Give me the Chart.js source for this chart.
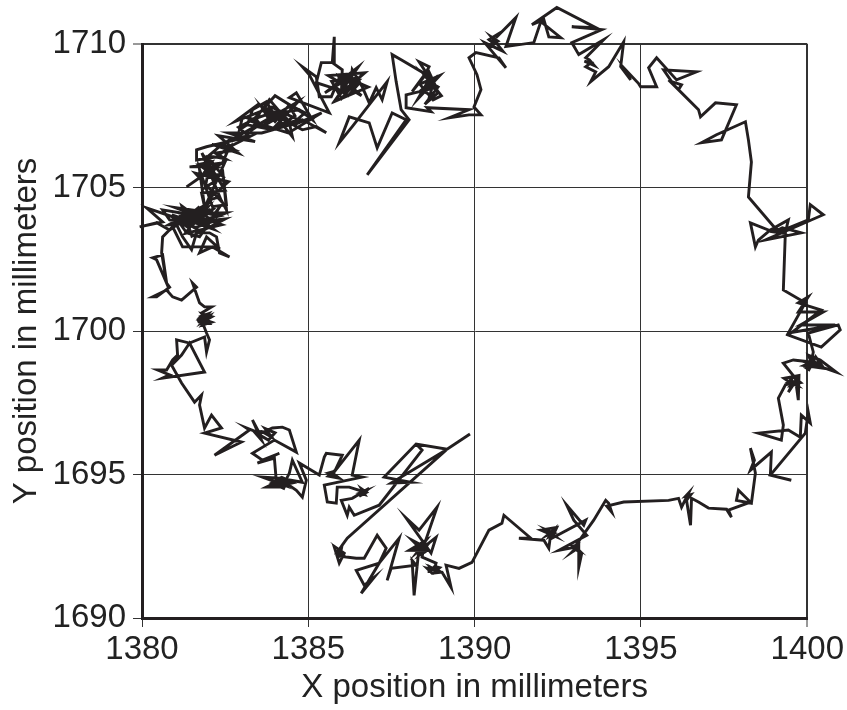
<!DOCTYPE html>
<html>
<head>
<meta charset="utf-8">
<script src="https://cdn.jsdelivr.net/npm/chart.js@4.4.1/dist/chart.umd.min.js"></script>
<style>
  html, body { margin: 0; padding: 0; background: #fff; }
  #wrap { width: 847px; height: 710px; position: relative; }
</style>
</head>
<body>
<div id="wrap"><canvas id="pathChart"></canvas></div>
<script>
// [x, y] in mm, in drawing order (bottom middle, then round the ring)
const legsMid = [[1389.86,1696.41],[1389.17,1695.88],[1388.24,1696.06],[1387.28,1694.91],[1388.09,1694.73],[1387.49,1694.70],[1389.14,1695.85],[1386.17,1692.78]];
const bottomLeft = [[1386.02,1692.54],[1385.87,1692.29],[1385.96,1692.12],[1385.81,1692.36],[1385.93,1691.91],[1386.08,1692.26],
  [1385.9,1692.4],[1386.05,1692.2],[1385.85,1692.25],[1386.0,1692.45],[1385.95,1692.15],
  [1386.44,1692.08],[1386.68,1692.08],[1387.07,1692.88],[1387.34,1692.43],[1387.13,1691.91],[1386.44,1691.66],[1386.68,1691.14],[1386.98,1691.42],[1386.59,1690.86],[1387.13,1691.91],[1387.73,1692.78],[1387.37,1691.31],[1387.49,1691.73],[1388.24,1691.84],[1388.12,1692.01],[1388.18,1690.79],[1388.33,1692.47],[1388.12,1692.71],
  [1388.3,1692.6],[1388.5,1692.3],[1388.35,1692.2],[1388.55,1692.5],[1388.25,1692.45],[1388.45,1692.65],[1388.6,1692.35],
  [1388.03,1692.36],[1388.54,1692.71],[1388.27,1692.29],[1388.84,1692.81],[1388.69,1692.26],[1387.94,1693.48],[1388.33,1693.06],[1388.87,1693.86],[1388.48,1692.54],[1388.42,1692.12],[1388.84,1691.91],[1388.78,1691.66],
  [1388.7,1691.75],[1388.9,1691.65],[1388.75,1691.55],[1388.95,1691.75],[1388.8,1691.8],[1388.65,1691.62],
  [1388.63,1691.80],[1388.96,1691.59],[1388.72,1691.56],[1388.57,1691.73],[1389.02,1691.59],[1389.29,1691.07],[1389.14,1691.84],[1389.53,1691.73],[1389.92,1691.94]];
const bottomRight = [[1390.43,1693.06],[1390.82,1693.30],[1390.88,1693.58],[1391.69,1692.78],[1391.33,1692.78],[1392.08,1692.71],[1392.23,1692.43],[1392.29,1692.95],
  [1392.2,1692.9],[1392.35,1693.05],[1392.25,1692.85],[1392.4,1692.95],
  [1392.17,1693.06],[1392.41,1692.85],[1391.99,1693.06],[1392.47,1693.16],[1392.32,1692.78],[1393.34,1693.41],[1393.28,1693.23],[1392.77,1693.93],[1392.98,1693.41],[1393.37,1692.88],[1392.53,1692.36],[1393.04,1692.47],
  [1393.1,1692.4],[1392.95,1692.5],[1393.1,1692.55],[1393.0,1692.35],
  [1392.92,1692.29],[1393.13,1692.54],[1393.13,1691.77],[1393.22,1692.26],[1392.98,1692.43],[1393.58,1693.41],[1393.94,1694.10],[1394.03,1694.00],[1394.12,1693.69],[1393.97,1693.90],[1394.48,1694.04],[1395.83,1694.10],[1396.13,1694.17],[1396.22,1693.86],[1396.43,1694.35],
  [1396.35,1694.25],[1396.5,1694.3],[1396.4,1694.15],
  [1396.37,1694.10],[1396.49,1693.23],[1396.52,1694.17],[1396.73,1694.04],[1397.03,1693.83],[1397.57,1693.79],[1397.72,1693.51],[1397.63,1693.76],[1398.29,1694.04],[1397.93,1694.45],[1397.87,1694.10],[1398.32,1694.00],[1398.44,1695.05],[1398.29,1695.92],[1398.41,1695.50],[1398.29,1695.15],[1398.92,1695.78],[1398.89,1694.98],[1399.52,1694.80],[1398.89,1694.98],[1399.94,1696.44],[1400.03,1697.17],[1400.09,1696.79],[1399.82,1697.07],[1399.79,1696.30],[1399.43,1696.55],[1398.53,1696.44],[1399.22,1696.20],[1399.28,1696.72],[1399.13,1697.66]];
const rightSide = [[1399.34,1698.12],[1399.58,1698.19],[1399.43,1697.87],[1399.67,1698.29],[1399.49,1698.08],
  [1399.5,1698.3],[1399.7,1698.1],[1399.4,1698.2],[1399.6,1698.4],[1399.8,1698.2],[1399.55,1698.15],[1399.3,1698.35],[1399.75,1698.45],
  [1399.73,1697.59],[1399.64,1698.36],[1399.28,1698.88],[1399.58,1698.99],[1400.12,1698.92],
  [1400.0,1698.9],[1400.3,1698.8],[1400.1,1699.0],[1400.4,1698.75],[1400.2,1698.95],[1399.9,1698.8],[1400.5,1698.7],[1400.25,1699.1],[1400.05,1698.65],
  [1399.97,1698.71],[1400.27,1698.81],[1400.87,1698.57],[1400.39,1698.99],[1400.03,1699.16],[1400.12,1698.92],[1400.18,1699.27],[1400.03,1699.93],[1400.93,1700.21],[1400.99,1700.04],[1400.42,1699.44],[1399.43,1699.86],[1400.42,1700.73],[1399.73,1700.98],[1400.03,1701.19],[1399.73,1700.66],[1400.48,1700.66],[1399.79,1700.21],[1400.84,1700.21],[1399.43,1699.93],[1399.94,1700.98],[1399.28,1701.43],[1399.34,1703.42],[1399.43,1703.87],[1398.89,1703.52],[1398.53,1703.17],[1398.44,1702.93],[1398.29,1703.77],[1398.89,1703.49],
  [1399.1,1703.55],[1399.3,1703.4],[1399.0,1703.45],[1399.25,1703.6],
  [1399.82,1703.42],[1398.74,1703.17],[1400.48,1704.05],[1400.09,1704.40],[1400.03,1703.87],[1399.13,1703.45],[1398.23,1704.67],[1398.32,1705.89],[1398.23,1706.66]];
const topRight = [[1398.14,1707.29],[1397.27,1706.84],[1396.82,1706.56],[1397.42,1706.66],[1397.87,1707.88],[1397.24,1707.95],[1396.79,1707.46],[1396.73,1707.71],[1395.83,1708.75],[1396.13,1708.41],[1396.22,1708.58],[1395.92,1708.69],[1395.68,1709.10],[1396.67,1709.03],[1396.07,1708.75],[1395.47,1709.52],[1395.23,1709.17],[1395.47,1708.51],[1394.99,1708.51],[1394.93,1708.62],[1394.48,1709.17],[1394.69,1708.75],[1394.39,1709.21],[1394.48,1710.08],[1394.03,1709.21],[1393.49,1708.69],[1393.64,1709.03],[1393.34,1709.21],
  [1393.5,1709.35],[1393.3,1709.4],[1393.6,1709.25],[1393.45,1709.45],
  [1393.34,1709.52],[1393.88,1710.15],[1393.13,1709.63],[1392.92,1710.05],[1393.82,1710.50],[1392.92,1710.60],[1393.64,1710.57],[1392.47,1711.27],[1391.72,1710.67],[1392.08,1710.85],[1392.23,1710.25],[1392.59,1710.22],[1391.99,1710.78],[1391.78,1710.05],[1390.94,1709.91],[1391.24,1710.92],[1390.64,1710.22],[1390.82,1710.43],[1390.43,1710.15],
  [1390.6,1710.0],[1390.4,1709.9],[1390.7,1710.1],[1390.5,1710.25],[1390.85,1709.75],[1390.3,1710.05],
  [1390.94,1709.17],[1390.73,1709.52],[1390.04,1709.70],[1389.83,1709.52],[1390.07,1708.93],[1390.19,1708.41],[1389.98,1707.81],[1390.19,1707.53],[1389.83,1707.53]];
const topLeft = [[1389.23,1707.43],[1389.83,1707.71],[1388.57,1707.78],[1388.69,1707.64],[1387.94,1707.78],[1387.94,1708.23],[1388.84,1708.48],[1388.33,1709.38],[1388.63,1709.21],[1388.48,1708.86],[1388.12,1708.34],
  [1388.6,1709.1],[1388.8,1708.6],[1388.5,1708.9],[1388.9,1708.3],[1388.6,1708.0],[1388.8,1708.8],[1388.4,1708.4],[1388.7,1708.2],[1388.5,1707.9],[1388.9,1708.5],[1388.6,1708.7],[1388.3,1708.1],
  [1388.95,1708.9],[1388.35,1708.6],[1388.75,1708.05],[1389.0,1708.2],[1388.45,1709.0],
  [1387.79,1709.45],[1387.52,1709.63],[1387.64,1708.69],[1387.79,1707.71],[1388.03,1707.36],[1386.77,1705.44],[1387.94,1707.36],[1387.52,1707.60],[1387.07,1706.38],[1386.83,1707.25],[1386.23,1707.46],[1385.93,1706.56],[1386.32,1707.12],[1387.37,1708.69],[1387.22,1708.06],[1387.04,1708.48],[1386.83,1707.95],[1386.62,1708.51],[1386.32,1709.10],
  [1386.3,1708.9],[1386.0,1708.6],[1386.4,1708.4],[1386.1,1708.9],[1385.8,1708.5],[1386.2,1708.2],[1386.5,1708.6],[1385.9,1708.9],[1386.1,1708.3],[1386.4,1708.8],[1385.7,1708.7],[1386.0,1708.1],[1386.3,1708.5],
  [1386.6,1708.2],[1385.6,1708.9],[1386.7,1709.0],[1385.9,1708.2],[1386.5,1709.2],[1385.5,1708.3],[1386.2,1708.8],[1386.8,1708.5],[1385.8,1708.0],[1386.35,1709.0],[1386.0,1708.45],
  [1386.02,1709.10],[1385.72,1709.35],[1385.78,1710.25],[1385.78,1709.35],[1385.39,1709.35],[1385.24,1708.65],[1385.63,1708.51],[1386.14,1708.30],[1386.53,1708.75],[1385.93,1708.82],[1385.69,1708.16],[1385.33,1708.16],[1385.24,1708.86],[1384.82,1709.21],[1385.03,1708.93],[1385.63,1707.60],[1384.43,1708.13],[1384.64,1708.30],[1385.12,1707.36],[1384.73,1707.71],[1384.13,1707.60],[1383.62,1707.71],[1383.83,1708.06],[1384.43,1707.25],[1384.52,1706.77],[1384.07,1707.43],[1383.62,1707.12],[1383.44,1707.36],[1383.02,1707.46],[1382.93,1707.01],[1383.17,1707.19],[1383.32,1707.71],[1383.74,1707.99],[1383.98,1707.53],[1384.82,1707.01],[1385.24,1707.12],[1385.54,1706.91],[1384.82,1707.36],[1384.34,1707.25],[1383.92,1707.01],[1383.44,1707.12],
  [1383.1,1707.2],[1383.5,1707.5],[1383.3,1707.0],[1383.8,1707.4],[1383.6,1707.8],[1384.0,1707.3],[1384.3,1707.7],[1384.1,1707.1],[1384.6,1707.5],[1384.4,1707.9],[1384.9,1707.6],[1384.5,1707.2],[1384.2,1707.6],[1383.7,1707.2],[1383.9,1707.6],[1383.4,1707.4],[1382.9,1707.1],[1383.2,1706.8],[1382.7,1706.7],[1382.4,1706.5],[1382.8,1706.3],[1382.2,1706.2],[1382.5,1706.0],[1382.0,1706.1],[1382.3,1706.4],
  [1384.7,1708.0],[1383.9,1707.0],[1385.1,1707.4],[1384.0,1708.2],[1383.3,1707.3],[1384.4,1706.9],[1385.4,1707.6],[1384.6,1707.2],[1383.5,1707.9],[1382.8,1707.3],[1383.9,1707.8],[1384.8,1707.3],[1383.6,1706.9],[1382.6,1706.9],[1383.4,1706.6],[1382.3,1706.8],[1382.9,1706.2],[1382.1,1706.5],
  [1382.63,1706.42],[1383.23,1706.77],[1381.94,1706.42],[1381.64,1706.31],[1381.64,1705.96],[1382.24,1706.07],[1382.63,1706.42],[1382.42,1705.86],[1381.43,1705.72],[1381.94,1705.72],[1382.27,1705.69],[1381.73,1705.34],[1381.34,1705.02],[1381.94,1705.51],[1382.42,1705.41],[1382.12,1705.86],
  [1381.9,1706.1],[1382.2,1705.7],[1381.8,1705.4],[1382.1,1705.9],[1381.7,1705.8],[1382.3,1705.3],[1381.9,1705.0],[1382.0,1705.6],
  [1382.5,1705.9],[1382.0,1704.6],[1382.6,1705.2],[1381.6,1705.5],[1382.4,1704.5],[1381.8,1706.2],[1382.5,1704.9],
  [1381.79,1704.81],[1381.88,1704.33],[1381.73,1705.62],[1382.12,1704.33],[1382.54,1704.40],[1382.42,1705.62],[1382.54,1704.22],[1382.33,1704.67],[1382.03,1704.57]];
const leftUpper = [[1381.64,1703.98],[1381.13,1704.12],[1380.62,1704.22],[1380.83,1703.87],[1381.43,1703.77],[1382.03,1704.22],[1382.24,1703.98],[1382.54,1704.12],
  [1381.5,1704.1],[1381.9,1703.7],[1381.3,1703.9],[1381.7,1704.3],[1382.1,1703.8],[1381.6,1703.6],[1381.2,1704.0],[1381.8,1704.0],[1382.2,1704.3],[1381.4,1703.6],[1381.0,1703.9],[1381.7,1703.9],[1381.9,1704.2],[1381.5,1703.8],[1382.3,1704.0],[1381.6,1704.2],
  [1381.0,1704.3],[1382.4,1703.7],[1381.3,1703.4],[1382.0,1704.45],[1380.8,1703.7],[1382.5,1703.9],[1381.5,1703.3],[1381.2,1704.35],[1382.15,1703.55],[1380.9,1704.05],[1381.8,1703.45],[1382.35,1704.35],
  [1381.94,1703.63],[1381.73,1703.28],[1381.34,1703.42],[1381.13,1703.77],[1380.83,1703.52],[1380.44,1703.77],[1379.93,1703.63],[1380.62,1703.80],[1380.14,1704.29],[1380.92,1703.98],[1381.22,1703.28],[1381.49,1702.83],[1381.64,1703.42],[1382.03,1703.42],[1382.24,1703.28],[1382.33,1702.72],[1382.63,1702.58],[1382.12,1702.93],[1381.73,1702.72],[1381.94,1703.28],[1382.27,1702.93],[1381.22,1702.93],[1380.92,1703.63],[1380.62,1703.28],[1380.59,1702.72],[1380.74,1701.67],[1380.44,1702.48],[1380.32,1702.55],[1380.62,1702.65],[1380.74,1701.67],[1380.83,1701.53],[1380.44,1701.19],[1380.32,1701.19],[1380.74,1701.43],[1380.92,1701.19],[1381.19,1701.08],[1381.64,1701.53],[1381.52,1701.67],[1381.73,1700.98],[1381.88,1700.84],[1382.09,1700.84],[1381.79,1700.63]];
const leftLower = [[1381.97,1700.45],[1381.67,1700.31],[1382.03,1700.52],[1381.82,1700.21],[1382.09,1700.31],[1381.73,1700.45],
  [1381.9,1700.6],[1381.7,1700.4],[1382.0,1700.3],[1381.8,1700.6],[1382.1,1700.5],[1381.8,1700.3],[1382.0,1700.6],[1381.75,1700.5],
  [1381.94,1699.93],[1382.03,1699.69],[1381.94,1699.27],[1381.88,1699.79],[1381.43,1699.58],[1381.04,1699.69],[1381.07,1699.16],[1380.92,1698.99],[1380.74,1698.64],[1380.47,1698.64],[1380.83,1698.47],[1380.62,1698.36],[1381.88,1698.57],[1381.43,1699.58],[1381.19,1699.16],[1380.89,1698.81],[1381.19,1698.19],[1381.58,1697.52],[1381.79,1697.77],[1381.73,1697.42],[1381.88,1696.62],[1382.09,1697.07],[1382.39,1696.62],[1381.88,1696.44],[1382.99,1696.13],[1382.18,1695.67],[1383.23,1696.55],[1383.14,1696.62],[1383.53,1696.44],[1383.32,1696.90],[1383.59,1696.20],[1383.38,1696.48],
  [1383.6,1696.5],[1383.9,1696.3],[1383.7,1696.6],[1384.0,1696.45],[1383.8,1696.2],[1383.5,1696.4],
  [1383.92,1696.62],[1384.22,1696.65],[1384.43,1696.55],[1384.64,1695.78],[1383.98,1696.20],[1383.32,1695.74],[1383.62,1695.50],[1384.13,1695.74],[1383.47,1695.40],[1383.98,1695.57]];
const lowerCluster = [[1384.04,1694.73],[1383.74,1694.56],[1384.22,1694.56],[1384.43,1695.05],[1384.52,1695.50],[1384.82,1694.73],[1384.13,1694.87],[1383.62,1694.91],[1384.28,1694.63],
  [1384.1,1694.8],[1384.3,1694.6],[1384.0,1694.6],[1384.4,1694.8],[1384.2,1694.9],[1383.9,1694.7],[1384.3,1694.5],[1384.1,1694.6],[1384.5,1694.7],[1384.2,1694.8],
  [1384.64,1694.45],[1384.82,1694.21],[1384.94,1694.80],[1384.73,1695.40]];
const lowerMiddle = [[1385.33,1694.98],[1385.48,1695.61],[1385.54,1695.74],[1386.02,1695.67],[1385.81,1695.15],[1385.60,1694.94],[1385.93,1694.87],[1385.69,1695.08],
  [1385.8,1694.95],[1385.6,1695.05],[1385.75,1695.1],[1385.65,1694.9],
  [1386.53,1696.20],[1386.32,1694.98],[1386.62,1694.91],[1385.48,1694.63],[1385.57,1694.04],[1385.84,1694.00],[1385.87,1694.56],[1386.23,1694.56],[1386.53,1694.45],[1386.62,1694.35],[1386.71,1694.42],
  [1386.55,1694.35],[1386.7,1694.3],[1386.6,1694.5],[1386.75,1694.38],
  [1386.53,1694.24],[1386.83,1694.52],[1386.32,1694.17],[1385.99,1694.10],[1386.17,1693.58],[1386.23,1693.86],[1386.38,1693.58],[1387.13,1693.93],[1388.42,1695.85],[1388.24,1696.06]];

const xTicks = [1380, 1385, 1390, 1395, 1400];
const yTicks = [1690, 1695, 1700, 1705, 1710];
const xTitle = "X position in millimeters";
const yTitle = "Y position in millimeters";

const track = [].concat(legsMid, bottomLeft, bottomRight, rightSide, topRight,
  topLeft, leftUpper, leftLower, lowerCluster, lowerMiddle)
  .map(([x, y]) => ({ x: x, y: y }));

const ink = "#231f20";
const textColor = "#222";
const textFont = { family: "'Liberation Sans', Arial, sans-serif", size: 33 };

const ctx = document.getElementById("pathChart").getContext("2d");
const chart = new Chart(ctx, {
  type: "scatter",
  data: {
    datasets: [
      {
        data: track,
        showLine: true,
        borderColor: ink,
        borderWidth: 2.9,
        borderJoinStyle: "miter",
        pointRadius: 0,
        pointHoverRadius: 0,
        tension: 0,
        clip: false,
      },
    ],
  },
  options: {
    responsive: true,
    maintainAspectRatio: false,
    animation: false,
    events: [],
    layout: { padding: { top: 44, right: 38, left: 0, bottom: 0 } },
    plugins: { legend: { display: false }, tooltip: { enabled: false } },
    scales: {
      x: {
        type: "linear",
        min: xTicks[0],
        max: xTicks[xTicks.length - 1],
        afterBuildTicks: (s) => { s.ticks = xTicks.map((v) => ({ value: v })); },
        afterFit: (s) => { s.height = 92; },
        grid: {
          color: "#333",
          lineWidth: (c) => (c.tick && c.tick.value === 1400 ? 2 : 1),
          tickLength: 9,
          tickColor: "#333",
          tickWidth: 1,
        },
        border: { color: ink, width: 3 },
        ticks: { color: textColor, font: textFont, padding: 3, maxRotation: 0, callback: (v) => String(v) },
        title: { display: true, text: xTitle, color: textColor, font: textFont, padding: { top: 0, bottom: 2 } },
      },
      y: {
        type: "linear",
        min: yTicks[0],
        max: yTicks[yTicks.length - 1],
        afterBuildTicks: (s) => { s.ticks = yTicks.map((v) => ({ value: v })); },
        afterFit: (s) => { s.width = 142; },
        grid: {
          color: "#333",
          lineWidth: (c) => (c.tick && c.tick.value === 1710 ? 2 : 1),
          tickLength: 9,
          tickColor: "#333",
          tickWidth: 1,
        },
        border: { color: ink, width: 3 },
        ticks: { color: textColor, font: textFont, padding: 7, callback: (v) => String(v) },
        title: { display: true, text: yTitle, color: textColor, font: textFont, padding: { top: 7, bottom: 0 } },
      },
    },
  },
});
</script>
</body>
</html>
